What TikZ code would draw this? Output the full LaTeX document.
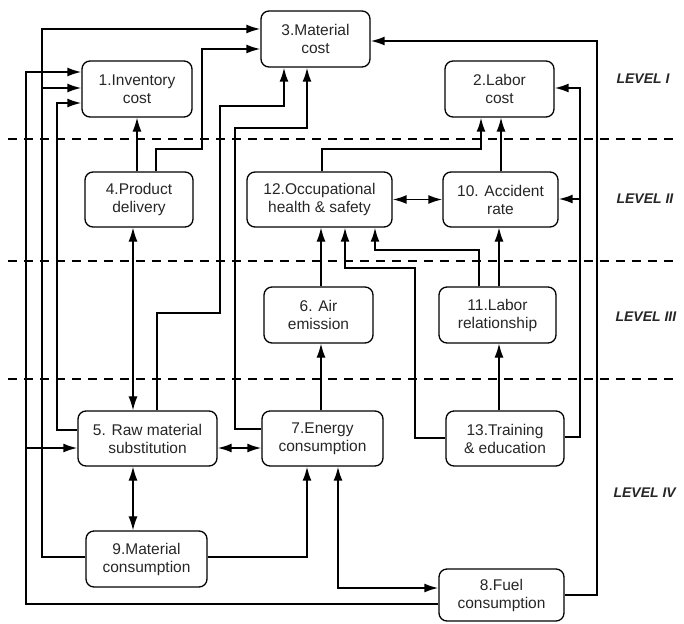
\documentclass[tikz,border=0pt]{standalone}
\usepackage{fontspec}
\setmainfont{Liberation Sans}
\usepackage{tikz}
\usetikzlibrary{arrows.meta}
\usetikzlibrary{calc}

\tikzset{
    box/.style={draw, line width=1.3pt, rounded corners=8pt, align=center, minimum width=110pt, minimum height=55pt, text=black!85, font=\fontsize{15.5}{18}\selectfont},
    link/.style={line width=1.8pt},
    flow/.style={line width=1.2pt},
    level/.style={anchor=west, font=\fontsize{14}{17}\selectfont\bfseries\itshape, text=black!85},
    sep/.style={line width=1.2pt, dash pattern=on 9pt off 7pt}
}

\begin{document}
\begin{tikzpicture}[x=1pt, y=-1pt, >={Latex[length=14pt,width=9pt]}]
    \useasboundingbox (0,0) rectangle (684,623);
    \draw[sep](8,139)--(676,139);
    \draw[sep](8,261)--(676,261);
    \draw[sep](8,379)--(676,379);
    \node[level] at (613,79){LEVEL I};
    \node[level] at (613,199){LEVEL II};
    \node[level] at (612,317){LEVEL III};
    \node[level] at (610,493){LEVEL IV};

    \node[box, minimum width=109pt, minimum height=56pt] (n3) at (315.5,39){3.Material\\cost};
    \node[box, minimum height=56pt] (n1) at (137,89){1.Inventory\\cost};
    \node[box, minimum width=109pt, minimum height=56pt] (n2) at (499.5,89){2.Labor\\cost};
    \node[box, minimum width=108pt] (n4) at (139,199.5){4.Product\\delivery};
    \node[box, minimum width=145pt] (n12) at (319.5,199.5){12.Occupational\\health \& safety};
    \node[box, minimum width=115pt] (n10) at (500.5,199.5){10. Accident\\rate};
    \node[box, minimum width=109pt, minimum height=56pt] (n6) at (318.5,315){6. Air\\emission};
    \node[box, minimum width=117pt, minimum height=56pt] (n11) at (497.5,315){11.Labor\\relationship};
    \node[box, minimum width=139pt] (n5) at (147.5,438.5){5. Raw material\\substitution};
    \node[box, minimum width=121pt] (n7) at (322.5,438.5){7.Energy\\consumption};
    \node[box, minimum width=118pt] (n13) at (505,438.5){13.Training\\\& education};
    \node[box, minimum width=121pt, minimum height=56pt] (n9) at (146.5,559){9.Material\\consumption};
    \node[box, minimum width=125pt, minimum height=52pt] (n8) at (501.5,595){8.Fuel\\consumption};

    \coordinate (t9) at (42,88);
    \coordinate (t8) at (26,448);
    \coordinate (t13) at (580,199);

    \draw[link,->](n4.north -| 156,0) |- (202,149) |- (n3.west |- 0,49);
    \draw[link,->](n5.north -| 157,0) |- (220,313) |- (284,106) -- (n3.south -| 284,0);
    \draw[link,->](n7.west |- 0,429) -| (235,128) -| (n3.south -| 307,0);
    \draw[link,->](n8.east) -| (597,41) -- (n3.east |- 0,41);
    \draw[link,->](n9.west |- 0,557) -| (t9) |- (n3.west |- 0,29);
    \draw[link,->](t9) -- (n1.west |- 0,88);
    \draw[link,->](n8.west |- 0,604) -| (t8) |- (n1.west |- 0,72);
    \draw[link,->](t8) -- (n5.west |- 0,448);
    \draw[link,->](n5.west |- 0,430) -| (57,103) -- (n1.west |- 0,103);
    \draw[flow,->](n4.north -| 137,0)--(n1.south -| 137,0);
    \draw[flow,<->](n4.south -| 133,0)--(n5.north -| 133,0);
    \draw[flow,<->](n5.south -| 133,0)--(n9.north -| 133,0);
    \draw[link,<->](n5.east |- 0,448)--(n7.west |- 0,448);
    \draw[link,->](n9.east |- 0,557) -| (n7.south -| 307,0);
    \draw[link,<->](n7.south -| 338,0) |- (n8.west |- 0,588);
    \draw[flow,->](n7.north -| 321,0)--(n6.south -| 321,0);
    \draw[flow,->](n6.north -| 321,0)--(n12.south -| 321,0);
    \draw[link,->](n11.north -| 479,0) |- (375,250) -- (n12.south -| 375,0);
    \draw[link,->](n13.west |- 0,438) -| (415,268) -| (n12.south -| 345,0);
    \draw[flow,->](n13.north -| 499,0)--(n11.south -| 499,0);
    \draw[flow,->](n11.north -| 499,0)--(n10.south -| 499,0);
    \draw[link,<->](n12.east)--(n10.west);
    \draw[flow,->](n10.north -| 501,0)--(n2.south -| 501,0);
    \draw[link,->](n12.north -| 322,0) |- (481,149) -- (n2.south -| 481,0);
    \draw[link,->](n13.east |- 0,437) -| (580,88) -- (n2.east |- 0,88);
    \draw[link,->](t13) -- (n10.east |- 0,199);
\end{tikzpicture}
\end{document}
